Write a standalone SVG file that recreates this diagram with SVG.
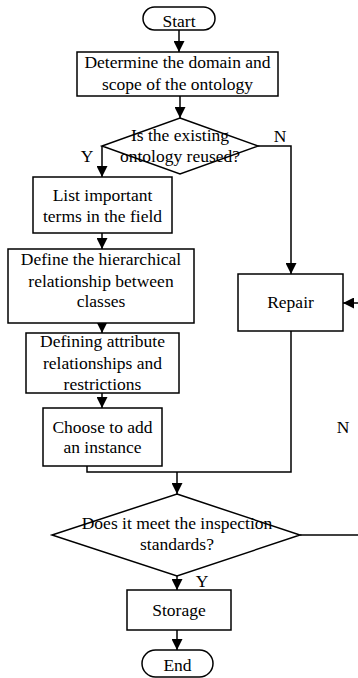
<svg xmlns="http://www.w3.org/2000/svg" width="358" height="678" viewBox="0 0 358 678">
  <style>
    .shape { fill: #ffffff; stroke: #000000; stroke-width: 1.5; }
    .link { fill: none; stroke: #000000; stroke-width: 1.5; }
    text { font-family: "Liberation Serif", "Times New Roman", serif; font-size: 17.5px; fill: #000000; text-anchor: middle; }
  </style>
  <defs>
    <marker id="arrow" markerUnits="userSpaceOnUse" markerWidth="11" markerHeight="11" viewBox="0 0 11 11" refX="11" refY="5.5" orient="auto">
      <path d="M0,0 L11,5.5 L0,11 Z" fill="#000000"/>
    </marker>
  </defs>

  <!-- connectors -->
  <g id="connectors">
    <line class="link" x1="179" y1="30" x2="179" y2="52" marker-end="url(#arrow)"/>
    <line class="link" x1="180" y1="96" x2="180" y2="118" marker-end="url(#arrow)"/>
    <line class="link" x1="102" y1="146" x2="102" y2="177" marker-end="url(#arrow)"/>
    <polyline class="link" points="258,146 291,146 291,274" marker-end="url(#arrow)"/>
    <line class="link" x1="102" y1="233" x2="102" y2="249" marker-end="url(#arrow)"/>
    <line class="link" x1="102" y1="323" x2="102" y2="333" marker-end="url(#arrow)"/>
    <line class="link" x1="102" y1="393" x2="102" y2="408" marker-end="url(#arrow)"/>
    <polyline class="link" points="87,466 87,472 291,472 291,331"/>
    <line class="link" x1="177" y1="472" x2="177" y2="494" marker-end="url(#arrow)"/>
    <line class="link" x1="300" y1="535" x2="358" y2="535"/>
    <line class="link" x1="358" y1="303" x2="343" y2="303" marker-end="url(#arrow)"/>
    <line class="link" x1="177" y1="576" x2="177" y2="590" marker-end="url(#arrow)"/>
    <line class="link" x1="177" y1="630" x2="177" y2="650" marker-end="url(#arrow)"/>
    <text x="87" y="162">Y</text>
    <text x="280" y="142">N</text>
    <text x="343" y="433">N</text>
    <text x="202" y="587">Y</text>
  </g>

  <g id="start">
    <rect class="shape" x="143" y="7" width="72" height="23" rx="11.5"/>
    <text x="179" y="27">Start</text>
  </g>

  <g id="scope">
    <rect class="shape" x="77" y="52" width="201" height="44"/>
    <text x="177.5" y="68">Determine the domain and</text>
    <text x="177.5" y="90">scope of the ontology</text>
  </g>

  <g id="reuse">
    <polygon class="shape" points="180,118 258,146 180,174 102,146"/>
    <text x="180" y="141">Is the existing</text>
    <text x="180" y="162">ontology reused?</text>
  </g>

  <g id="terms">
    <rect class="shape" x="33" y="177" width="139" height="56"/>
    <text x="102.5" y="200.5">List important</text>
    <text x="102.5" y="222">terms in the field</text>
  </g>

  <g id="hierarchy">
    <rect class="shape" x="8" y="249" width="186" height="74"/>
    <text x="101" y="265">Define the hierarchical</text>
    <text x="101" y="286.5">relationship between</text>
    <text x="101" y="307">classes</text>
  </g>

  <g id="attributes">
    <rect class="shape" x="26" y="333" width="153" height="60"/>
    <text x="102.5" y="347">Defining attribute</text>
    <text x="102.5" y="369">relationships and</text>
    <text x="102.5" y="390">restrictions</text>
  </g>

  <g id="instance">
    <rect class="shape" x="43" y="408" width="119" height="58"/>
    <text x="102.5" y="432.5">Choose to add</text>
    <text x="102.5" y="453">an instance</text>
  </g>

  <g id="repair">
    <rect class="shape" x="238" y="274" width="105" height="57"/>
    <text x="290.5" y="308">Repair</text>
  </g>

  <g id="inspection">
    <polygon class="shape" points="177,494 300,535 177,576 52,535"/>
    <text x="177" y="529">Does it meet the inspection</text>
    <text x="177" y="550">standards?</text>
  </g>

  <g id="storage">
    <rect class="shape" x="127" y="590" width="104" height="40"/>
    <text x="179" y="616">Storage</text>
  </g>

  <g id="end">
    <rect class="shape" x="142" y="650" width="71" height="27" rx="13.5"/>
    <text x="177.5" y="671">End</text>
  </g>
</svg>
